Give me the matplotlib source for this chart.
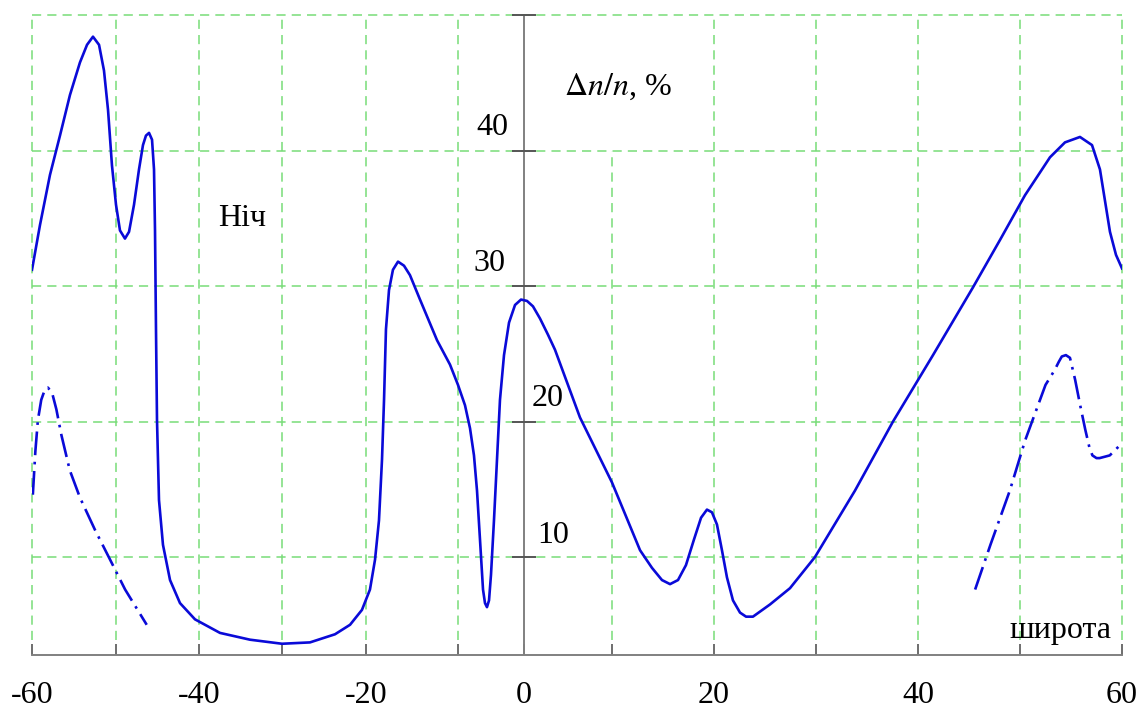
#%% Import packages

import numpy as np
import matplotlib.pyplot as plt

#%% Set matplotlib general parameters

plt.rcParams['font.family'] = ['Liberation Serif', 'DejaVu Serif']
plt.rcParams['mathtext.fontset'] = 'stix'
plt.rcParams['font.size'] = 23

#%% Data (latitude, deg ; relative disturbance dn/n, %)

# solid curve (night)
lat_solid = [-60.0, -59.05, -57.86, -56.67, -55.48, -54.29, -53.45, -52.74, -52.02, -51.43,
             -50.95, -50.48, -50.0, -49.52, -48.92, -48.43, -47.83, -47.23, -46.75, -46.39,
             -46.02, -45.66, -45.42, -45.30, -45.18, -45.06, -44.82, -44.34, -43.49, -42.29,
             -40.48, -37.47, -33.86, -30.0, -26.67, -23.69, -21.9, -20.48, -19.57, -19.02,
             -18.59, -18.26, -18.04, -17.83, -17.5, -17.07, -16.52, -15.87, -15.22, -14.13,
             -12.28, -10.87, -10.0, -8.94, -8.18, -7.58, -7.12, -6.67, -6.21, -5.91,
             -5.61, -5.30, -5.0, -4.55, -4.09, -3.64, -3.03, -2.27, -1.36, -0.45,
             0.34, 1.02, 1.82, 2.73, 3.52, 6.36, 10.0, 12.75, 13.92, 14.9,
             15.69, 16.47, 17.25, 18.04, 18.73, 19.31, 19.8, 20.29, 20.78, 21.27,
             21.86, 22.55, 23.14, 23.82, 25.49, 27.45, 29.9, 33.82, 37.55, 41.47,
             45.39, 48.04, 50.49, 52.94, 54.41, 55.88, 57.06, 57.84, 58.33, 58.82,
             59.41, 60.0]
dn_solid = [31.2, 34.5, 38.2, 41.1, 44.1, 46.5, 47.8, 48.4, 47.8, 45.9,
            43.0, 38.9, 36.0, 34.1, 33.5, 34.0, 36.0, 38.6, 40.4, 41.1,
            41.3, 40.8, 38.6, 34.1, 26.7, 20.1, 14.2, 10.9, 8.3, 6.6,
            5.4, 4.4, 3.9, 3.6, 3.7, 4.3, 5.0, 6.1, 7.6, 9.8,
            12.7, 17.2, 21.6, 26.8, 29.7, 31.2, 31.8, 31.5, 30.8, 29.0,
            26.0, 24.2, 22.7, 21.2, 19.5, 17.5, 14.9, 11.3, 7.6, 6.6,
            6.3, 6.8, 8.7, 12.7, 17.2, 21.6, 24.9, 27.3, 28.6, 29.0,
            28.9, 28.5, 27.6, 26.4, 25.3, 20.3, 15.5, 10.5, 9.2, 8.3,
            8.0, 8.3, 9.4, 11.3, 12.9, 13.5, 13.3, 12.4, 10.5, 8.5,
            6.8, 5.9, 5.6, 5.6, 6.5, 7.7, 10.0, 14.9, 20.0, 24.9,
            29.9, 33.4, 36.7, 39.5, 40.6, 41.0, 40.4, 38.6, 36.3, 34.0,
            32.3, 31.3]

# dash-dot curve, southern part
lat_dd_south = [-59.9, -59.6, -59.3, -58.9, -58.5, -58.1, -57.6, -57.1, -56.5, -55.5,
                -54.3, -52.5, -50.7, -48.9, -46.3]
dn_dd_south = [14.6, 17.8, 20.1, 21.6, 22.3, 22.5, 22.1, 20.9, 19.0, 16.4,
               14.4, 12.0, 9.8, 7.6, 5.0]

# dash-dot curve, northern part
lat_dd_north = [45.6, 47.1, 49.0, 50.5, 52.5, 53.4, 53.8, 54.1, 54.5, 54.9,
                55.4, 55.9, 56.4, 56.8, 57.1, 57.5, 57.8, 58.8, 60.0]
dn_dd_north = [7.6, 10.9, 14.9, 18.6, 22.7, 23.8, 24.4, 24.8, 24.9, 24.7,
               23.1, 21.2, 19.4, 18.1, 17.5, 17.3, 17.3, 17.5, 18.4]

x_ticks = [-60, -40, -20, 0, 20, 40, 60]
y_ticks = [10, 20, 30, 40]

#%% Non uniform latitude axis (as in the original drawing)

grid_lat = np.arange(-60, 61, 10)
grid_pos = np.array([32, 116, 199, 282, 366, 458, 524, 612, 714, 816, 918, 1020, 1122], dtype=float)

def fwd(x):
    return np.interp(x, grid_lat, grid_pos)

def inv(p):
    return np.interp(p, grid_pos, grid_lat)

#%% Plot

fig = plt.figure(figsize=(11.4, 7.11), dpi=100)
ax = fig.add_axes([32/1140, 56/711, 1090/1140, 640/711])
ax.set_xscale('function', functions=(fwd, inv))
ax.set_xlim(-60, 60)
ax.set_ylim(2.77, 50)

green = '#78dc78'
grey = '#808080'
blue = '#0a0ad8'

#grid, drawn by hand so the cell under the label stays empty
for g in grid_lat:
    if g == 0:
        continue
    top = 40 if g == 10 else 50
    ax.vlines(g, 2.77 + 1.1, top, colors=green, linestyles=(0, (6, 4)), linewidth=1.1, clip_on=False)
for g in [10, 20, 30, 40, 50]:
    ax.axhline(g, color=green, linestyle=(0, (6, 4)), linewidth=1.1, clip_on=False)

ax.axvline(0, color=grey, linewidth=1.4)
ax.plot([0]*5, [10, 20, 30, 40, 50], marker='_', markersize=17, markeredgewidth=1.4,
        linestyle='none', color='#555555', clip_on=False)

ax.plot(lat_solid, dn_solid, color=blue, linewidth=1.9, solid_joinstyle='round')
ax.plot(lat_dd_south, dn_dd_south, color=blue, linewidth=1.9, linestyle=(0, (9, 2.5, 1, 2.5)))
ax.plot(lat_dd_north, dn_dd_north, color=blue, linewidth=1.9, linestyle=(0, (9, 2.5, 1, 2.5)))

#spines and ticks
for s in ['top', 'right', 'left']:
    ax.spines[s].set_visible(False)
ax.spines['bottom'].set_color(grey)
ax.spines['bottom'].set_linewidth(1.4)
ax.set_xticks(x_ticks)
ax.set_xticklabels([str(t) for t in x_ticks])
ax.set_xticks([t for t in grid_lat if t not in x_ticks], minor=True)
ax.tick_params(axis='x', which='both', direction='in', length=8, width=1.2, color='#555555')
ax.tick_params(axis='x', which='major', pad=19)
ax.set_yticks([])

#y labels sit next to the axis
ax.text(-4.85, 40.6, '40', ha='center', va='bottom')
ax.text(-5.2, 30.6, '30', ha='center', va='bottom')
ax.text(2.7, 20.6, '20', ha='center', va='bottom')
ax.text(3.3, 10.5, '10', ha='center', va='bottom')

ax.text(10.6, 44.7, r'$\Delta n/n$, %', ha='center', va='center')
ax.text(-34.8, 35.0, 'Ніч', ha='center', va='center')
ax.text(54.0, 4.6, 'широта', ha='center', va='center')

plt.savefig('out.png', dpi=100)
